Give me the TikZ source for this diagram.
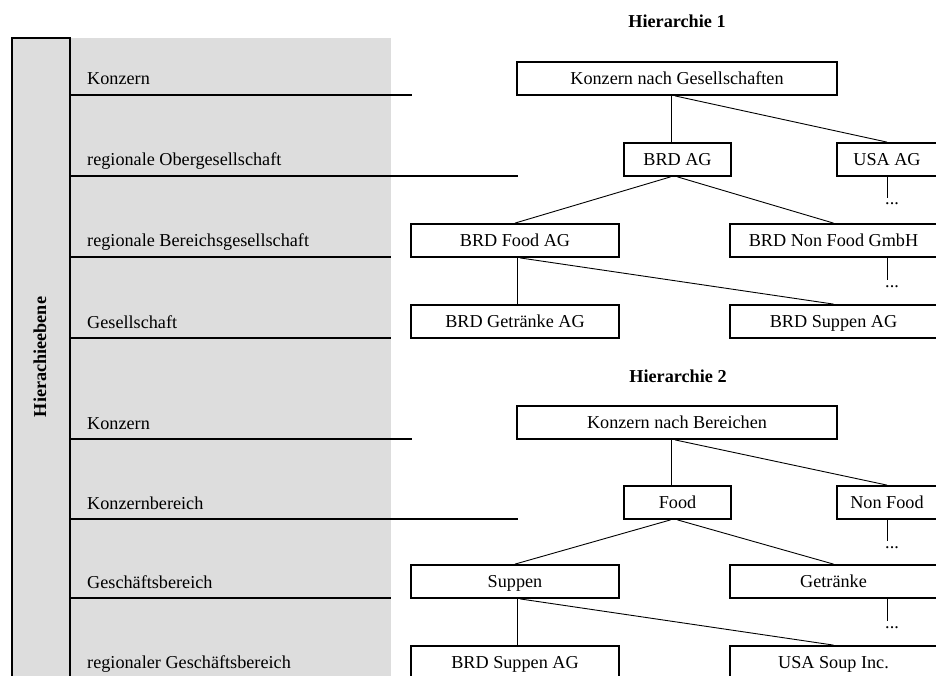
\documentclass[tikz,border=0pt]{standalone}
\usepackage{fontspec}
\setmainfont{Liberation Serif}
\definecolor{bandgray}{RGB}{221,221,221}
\tikzset{
  every node/.style={font=\fontsize{18.2}{22}\selectfont},
  unitbox/.style={draw, line width=1.8pt, minimum height=33pt, inner sep=0pt,
                  text height=15.5pt, text depth=4pt, fill=white},
  widebox/.style={unitbox, minimum width=208pt},
  rightbox/.style={unitbox, minimum width=207pt},
  smallbox/.style={unitbox, minimum width=107pt},
  edgebox/.style={unitbox, minimum width=100pt},
  topbox/.style={unitbox, minimum width=320pt},
  rule/.style={line width=1.8pt},
  conn/.style={line width=0.9pt},
  level/.style={anchor=base west, inner sep=0pt},
  title/.style={font=\fontsize{18.2}{22}\selectfont\bfseries, inner sep=0pt},
  more/.style={anchor=base west, inner sep=0pt},
}
\begin{document}
\begin{tikzpicture}[x=1pt, y=-1pt]
\useasboundingbox (0,0) rectangle (936,676);
\clip (0,0) rectangle (936,676);

% shaded band with the level names
\fill[bandgray] (12,38) rectangle (391,690);
\draw[rule] (12,690) -- (12,38) -- (70,38) -- (70,690);
\node[title, rotate=90] (axis) at (40,357) {Hierachieebene};

\draw[rule] (70,95)  -- (412,95);
\draw[rule] (70,176) -- (518,176);
\draw[rule] (70,257) -- (391,257);
\draw[rule] (70,338) -- (391,338);
\draw[rule] (70,439) -- (412,439);
\draw[rule] (70,519) -- (518,519);
\draw[rule] (70,598) -- (391,598);

\node[level] (l1) at (87,85)  {Konzern};
\node[level] (l2) at (87,166) {regionale Obergesellschaft};
\node[level] (l3) at (87,247) {regionale Bereichsgesellschaft};
\node[level] (l4) at (87,328) {Gesellschaft};
\node[level] (l5) at (87,429) {Konzern};
\node[level] (l6) at (87,509) {Konzernbereich};
\node[level] (l7) at (87,588) {Geschäftsbereich};
\node[level] (l8) at (87,668) {regionaler Geschäftsbereich};

% Hierarchie 1
\node[title] (t1) at (677,21) {Hierarchie 1};
\node[topbox]   (kng)      at (677,78.5)    {Konzern nach Gesellschaften};
\node[smallbox] (brdag)    at (677.5,159.5) {BRD AG};
\node[edgebox]  (usaag)    at (887,159.5)   {USA AG};
\node[widebox]  (food1)    at (515,240.5)   {BRD Food AG};
\node[rightbox] (nonfood1) at (833.5,240.5) {BRD Non Food GmbH};
\node[widebox]  (getr1)    at (515,321.5)   {BRD Getränke AG};
\node[rightbox] (supp1)    at (833.5,321.5) {BRD Suppen AG};

\draw[conn] ([xshift=-6pt]kng.south) -- ([xshift=-6.5pt]brdag.north);
\draw[conn] ([xshift=-2pt]kng.south) -- (usaag.north);
\draw[conn] ([xshift=-7pt]brdag.south) -- (food1.north);
\draw[conn] (brdag.south) -- (nonfood1.north);
\draw[conn] ([xshift=2pt]food1.south) -- ([xshift=2pt]getr1.north);
\draw[conn] ([xshift=5pt]food1.south) -- (supp1.north);

\coordinate (e1) at (887,198);
\coordinate (e2) at (887,280);
\draw[conn] (usaag.south) -- (e1);
\draw[conn] (nonfood1.south -| e2) -- (e2);
\node[more] (m1) at ([shift={(-2,7)}]e1) {...};
\node[more] (m2) at ([shift={(-2,7)}]e2) {...};

% Hierarchie 2
\node[title] (t2) at (678,376) {Hierarchie 2};
\node[topbox]   (knb)      at (677,422.5)   {Konzern nach Bereichen};
\node[smallbox] (food2)    at (677.5,502.5) {Food};
\node[edgebox]  (nonfood2) at (887,502.5)   {Non Food};
\node[widebox]  (supp2)    at (515,581.5)   {Suppen};
\node[rightbox] (getr2)    at (833.5,581.5) {Getränke};
\node[widebox]  (brdsupp)  at (515,662.5)   {BRD Suppen AG};
\node[rightbox] (usasoup)  at (833.5,662.5) {USA Soup Inc.};

\draw[conn] ([xshift=-6pt]knb.south) -- ([xshift=-6.5pt]food2.north);
\draw[conn] ([xshift=-2pt]knb.south) -- (nonfood2.north);
\draw[conn] ([xshift=-7pt]food2.south) -- (supp2.north);
\draw[conn] (food2.south) -- (getr2.north);
\draw[conn] ([xshift=2pt]supp2.south) -- ([xshift=2pt]brdsupp.north);
\draw[conn] ([xshift=5pt]supp2.south) -- (usasoup.north);

\coordinate (e3) at (887,541);
\coordinate (e4) at (887,621);
\draw[conn] (nonfood2.south) -- (e3);
\draw[conn] (getr2.south -| e4) -- (e4);
\node[more] (m3) at ([shift={(-2,7)}]e3) {...};
\node[more] (m4) at ([shift={(-2,7)}]e4) {...};
\end{tikzpicture}
\end{document}
